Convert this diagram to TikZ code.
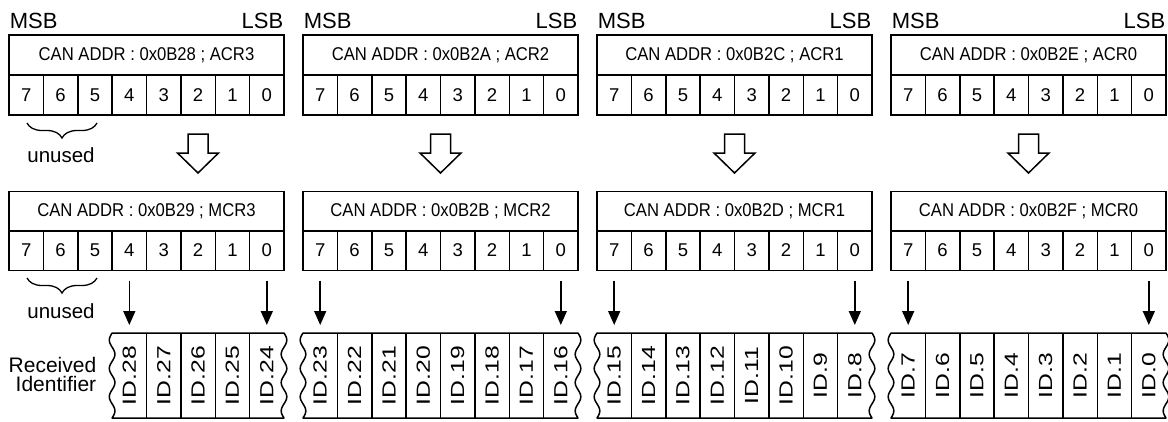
\documentclass[tikz,border=0pt]{standalone}
\usepackage{fontspec}
\setmainfont{Liberation Sans}
\usetikzlibrary{arrows.meta,positioning,decorations.pathreplacing}

\newcommand{\regtext}[1]{\scalebox{0.9}[1]{#1}}
\newcommand{\idtext}[1]{\rotatebox{90}{\scalebox{1.3}[1]{#1}}}

\begin{document}
\begin{tikzpicture}[x=1pt, y=-1pt, line width=1.5pt,
  cell/.style={draw, minimum width=34.375pt, minimum height=40pt, inner sep=0pt, outer sep=0pt, font=\fontsize{18.5}{19}\selectfont},
  hdr/.style={cell, minimum width=275pt, font=\fontsize{18.5}{20}\selectfont},
  idcell/.style={minimum width=34.375pt, minimum height=85pt, inner sep=0pt, outer sep=0pt, font=\fontsize{19}{20}\selectfont},
  lbl/.style={inner sep=0pt, font=\fontsize{20.5}{20}\selectfont},
  bigarrow/.style={draw, fill=white, line join=miter},
  bitarrow/.style={-{Triangle[width=12pt,length=14pt]}, shorten <=10pt, shorten >=8pt},
  unusedbrace/.style={decorate, decoration={brace, mirror, amplitude=15pt}, line width=1.3pt}]
  \useasboundingbox (0,0) rectangle (1168,421);

  \foreach \k/\ah/\mh/\rn in {1/28/29/3, 2/2A/2B/2, 3/2C/2D/1, 4/2E/2F/0} {
    \pgfmathsetmacro{\bx}{9+294*(\k-1)}
    \node[lbl, anchor=base west, font=\fontsize{22}{22}\selectfont] (msb\k) at (\bx,28) {MSB};
    \node[lbl, anchor=base east, font=\fontsize{22}{22}\selectfont] (lsb\k) at (\bx+275,28) {LSB};
    % acceptance code register
    \node[hdr] (acr\k) at (\bx+137.5,55) {\regtext{CAN ADDR : 0x0B\ah{} ; ACR\rn}};
    % acceptance mask register
    \node[hdr] (mcr\k) at (\bx+137.5,211.5) {\regtext{CAN ADDR : 0x0B\mh{} ; MCR\rn}};
    \foreach \i in {0,...,7} {
      \pgfmathtruncatemacro{\bit}{7-\i}
      \node[cell] (acr\k-\bit) at (\bx+34.375*\i+17.1875,95) {\bit};
      \node[cell] (mcr\k-\bit) at (\bx+34.375*\i+17.1875,250.5) {\bit};
    }
    % hollow arrow ACR -> MCR
    \pgfmathsetmacro{\cx}{\k==1 ? 198 : \bx+137.5}
    \draw[bigarrow] (\cx-10,134) -- (\cx+10,134) -- (\cx+10,153) -- (\cx+20.5,153)
      -- (\cx,173) -- (\cx-20.5,153) -- (\cx-10,153) -- cycle;
    % received identifier bits
    \pgfmathtruncatemacro{\jmax}{\k==1 ? 4 : 7}
    \pgfmathtruncatemacro{\jprev}{\jmax-1}
    \foreach \j in {0,...,\jmax} {
      \pgfmathtruncatemacro{\n}{8*(4-\k)+\j}
      \pgfmathsetmacro{\idx}{\bx+34.375*(7-\j)+17.1875}
      \node[idcell] (id\n) at (\idx,375.5) {\idtext{ID.\n}};
    }
    \foreach \j in {0,...,\jprev} {
      \pgfmathtruncatemacro{\n}{8*(4-\k)+\j}
      \draw (id\n.north west) -- (id\n.south west);
    }
    \pgfmathsetmacro{\lx}{\bx+34.375*(7-\jmax)}
    \pgfmathsetmacro{\rx}{\bx+275}
    \draw[line join=round] (\lx,333) -- (\rx,333)
      -- plot[domain=333:418, samples=61, smooth, variable=\t] ({\rx+2.8*sin((\t-333)*12.70588)},\t)
      -- (\lx,418)
      -- plot[domain=418:333, samples=61, smooth, variable=\t] ({\lx-2.8*sin((\t-333)*12.70588)},\t)
      -- cycle;
    % bit connectors
    \pgfmathtruncatemacro{\nl}{8*(4-\k)+\jmax}
    \pgfmathtruncatemacro{\nr}{8*(4-\k)}
    \draw[bitarrow] (mcr\k-\jmax.south) -- (id\nl.north);
    \draw[bitarrow] (mcr\k-0.south) -- (id\nr.north);
  }

  % unused bits
  \draw[unusedbrace] (27,123) -- (97,123);
  \node[lbl, anchor=base] (unused1) at (61,162) {unused};
  \draw[unusedbrace] (27,278) -- (97,278);
  \node[lbl, anchor=base] (unused2) at (61,318) {unused};

  \node[lbl, anchor=east, align=right, font=\fontsize{21}{19}\selectfont] (recv) at (97,374) {Received\\Identifier};
\end{tikzpicture}
\end{document}
